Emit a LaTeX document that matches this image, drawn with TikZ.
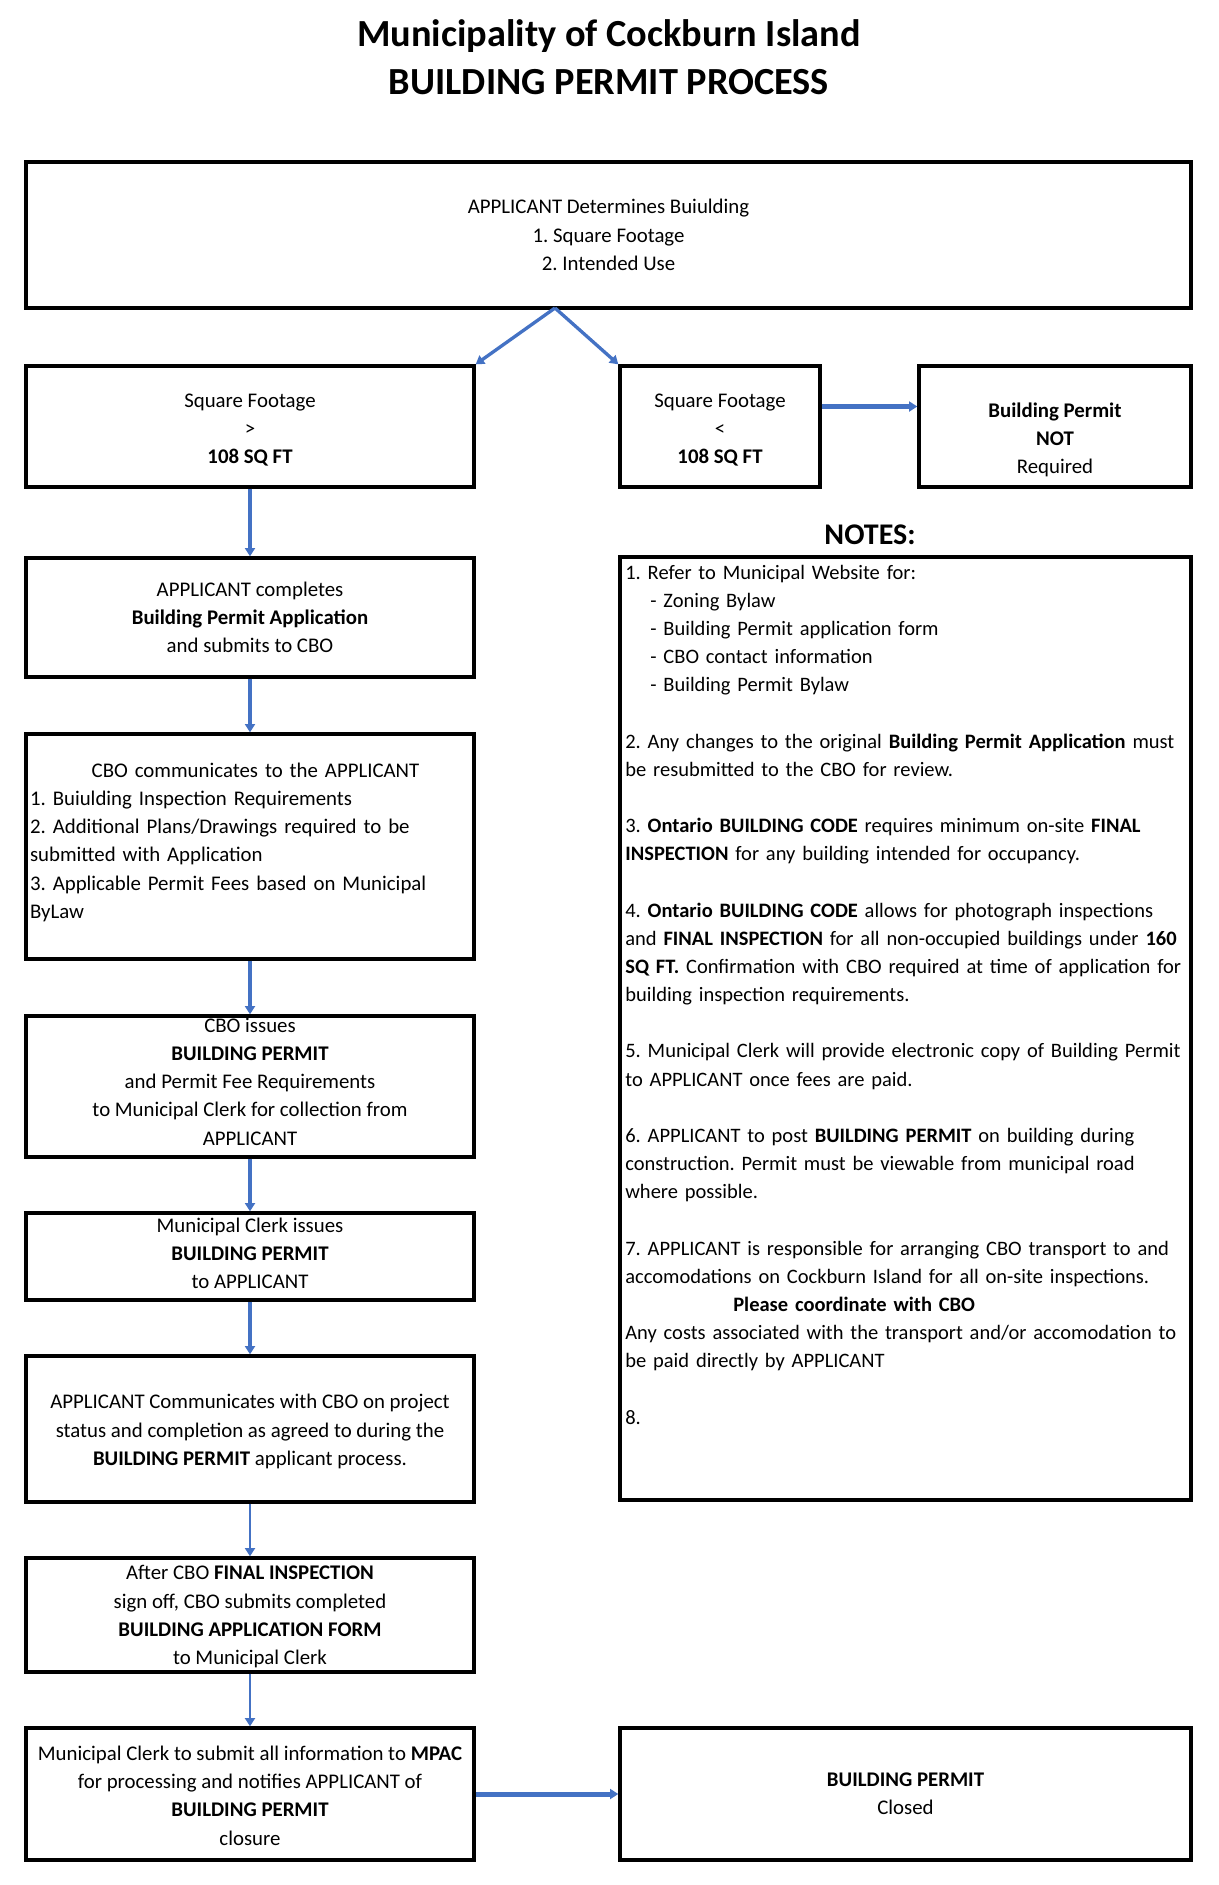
\documentclass[tikz,border=0pt]{standalone}
\usepackage{fontspec}
\setmainfont{Carlito}
\usetikzlibrary{arrows.meta,fit}
\definecolor{flowblue}{HTML}{4472C4}

\begin{document}
\frenchspacing
\begin{tikzpicture}[x=0.6pt,y=-0.6pt,
  pbox/.style={draw, line width=2pt, inner sep=0pt},
  ptext/.style={align=center, inner sep=0pt, font=\fontsize{12.5}{16.9}\selectfont},
  flow/.style={draw=flowblue, line width=2pt, -{Triangle[length=5pt,width=6pt]}}]
  \useasboundingbox (0,0) rectangle (1218,1885);
  \node[anchor=base, font=\bfseries\fontsize{23}{28.8}\selectfont] (title1) at (609,46) {Municipality of Cockburn Island};
  \node[anchor=base, font=\bfseries\fontsize{23}{28.8}\selectfont] (title2) at (609,94) {BUILDING PERMIT PROCESS};

  \node[pbox, fit={(26,162)(1191,308)}, label={[ptext]center:{APPLICANT Determines Buiulding\\1. Square Footage\\2. Intended Use}}] (top) {};
  \node[pbox, fit={(26,366)(474,487)}, label={[ptext, yshift=-2pt]center:{Square Footage\\>\\\textbf{108 SQ FT}}}] (sqbig) {};
  \node[pbox, fit={(620,366)(820,487)}, label={[ptext, yshift=-2pt]center:{Square Footage\\<\\\textbf{108 SQ FT}}}] (sqsmall) {};
  \node[pbox, fit={(919,366)(1191,487)}, label={[ptext, yshift=-8pt]center:{\textbf{Building Permit}\\\textbf{NOT}\\Required}}] (nopermit) {};

  \node[pbox, fit={(26,558)(474,677)}, label={[ptext]center:{APPLICANT completes\\\textbf{Building Permit Application}\\and submits to CBO}}] (apply) {};
  \node[pbox, fit={(26,734)(474,959)}, label={[ptext, yshift=2.5pt, text width=264pt, align=left]center:{\hspace*{37pt}CBO communicates to the APPLICANT\\1. Buiulding Inspection Requirements\\2. Additional Plans/Drawings required to be\\submitted with Application\\3. Applicable Permit Fees based on Municipal\\ByLaw}}] (cbocomm) {};
  \node[pbox, fit={(26,1016)(474,1157)}, label={[ptext, yshift=2.9pt]center:{CBO issues\\\textbf{BUILDING PERMIT}\\and Permit Fee Requirements\\to Municipal Clerk for collection from\\APPLICANT}}] (cboissue) {};
  \node[pbox, fit={(26,1213)(474,1300)}, label={[ptext, yshift=1.8pt]center:{Municipal Clerk issues\\\textbf{BUILDING PERMIT}\\to APPLICANT}}] (clerkissue) {};
  \node[pbox, fit={(26,1356)(474,1502)}, label={[ptext, yshift=-1.5pt]center:{APPLICANT Communicates with CBO on project\\status and completion as agreed to during the\\\textbf{BUILDING PERMIT} applicant process.}}] (status) {};
  \node[pbox, fit={(26,1558)(474,1672)}, label={[ptext, yshift=-1pt]center:{After CBO \textbf{FINAL INSPECTION}\\sign off, CBO submits completed\\\textbf{BUILDING APPLICATION FORM}\\to Municipal Clerk}}] (final) {};
  \node[pbox, fit={(26,1728)(474,1860)}, label={[ptext, yshift=-1pt]center:{Municipal Clerk to submit all information to \textbf{MPAC}\\for processing and notifies APPLICANT of\\\textbf{BUILDING PERMIT}\\closure}}] (mpac) {};
  \node[pbox, fit={(620,1728)(1191,1860)}, label={[ptext]center:{\textbf{BUILDING PERMIT}\\Closed}}] (closed) {};

  \node[font=\bfseries\fontsize{18}{22}\selectfont] (notestitle) at (870,535) {NOTES:};
  \node[pbox, fit={(620,557)(1191,1500)}] (notes) {};
  \node[anchor=base west, inner sep=0pt, text width=345pt, align=left, font=\fontsize{12.3}{16.9}\selectfont] (notestext) at (625,579) {1. Refer to Municipal Website for:\\
    \hspace*{15pt}- Zoning Bylaw\\
    \hspace*{15pt}- Building Permit application form\\
    \hspace*{15pt}- CBO contact information\\
    \hspace*{15pt}- Building Permit Bylaw\\[16.9pt]
    2. Any changes to the original \textbf{Building Permit Application} must\\
    be resubmitted to the CBO for review.\\[16.9pt]
    3. \textbf{Ontario BUILDING CODE} requires minimum on-site \textbf{FINAL}\\
    \textbf{INSPECTION} for any building intended for occupancy.\\[16.9pt]
    4. \textbf{Ontario BUILDING CODE} allows for photograph inspections\\
    and \textbf{FINAL INSPECTION} for all non-occupied buildings under \textbf{160}\\
    \textbf{SQ FT.} Confirmation with CBO required at time of application for\\
    building inspection requirements.\\[16.9pt]
    5. Municipal Clerk will provide electronic copy of Building Permit\\
    to APPLICANT once fees are paid.\\[16.9pt]
    6. APPLICANT to post \textbf{BUILDING PERMIT} on building during\\
    construction. Permit must be viewable from municipal road\\
    where possible.\\[16.9pt]
    7. APPLICANT is responsible for arranging CBO transport to and\\
    accomodations on Cockburn Island for all on-site inspections.\\
    \hspace*{64.8pt}\textbf{Please coordinate with CBO}\\
    Any costs associated with the transport and/or accomodation to\\
    be paid directly by APPLICANT\\[16.9pt]
    8.};

  \coordinate (split) at (555,308);
  \draw[flow] (split) -- (sqbig.north east);
  \draw[flow] (split) -- (sqsmall.north west);
  \draw[flow, line width=3pt] ([yshift=12pt]sqsmall.east) -- ([yshift=12pt]sqsmall.east -| nopermit.west);
  \draw[flow] (sqbig) -- (apply);
  \draw[flow] (apply) -- (cbocomm);
  \draw[flow] (cbocomm) -- (cboissue);
  \draw[flow] (cboissue) -- (clerkissue);
  \draw[flow] (clerkissue) -- (status);
  \draw[flow, line width=1.5pt] (status) -- (final);
  \draw[flow, line width=1.5pt] (final) -- (mpac);
  \draw[flow, line width=3pt] (mpac) -- (closed);
\end{tikzpicture}
\end{document}
